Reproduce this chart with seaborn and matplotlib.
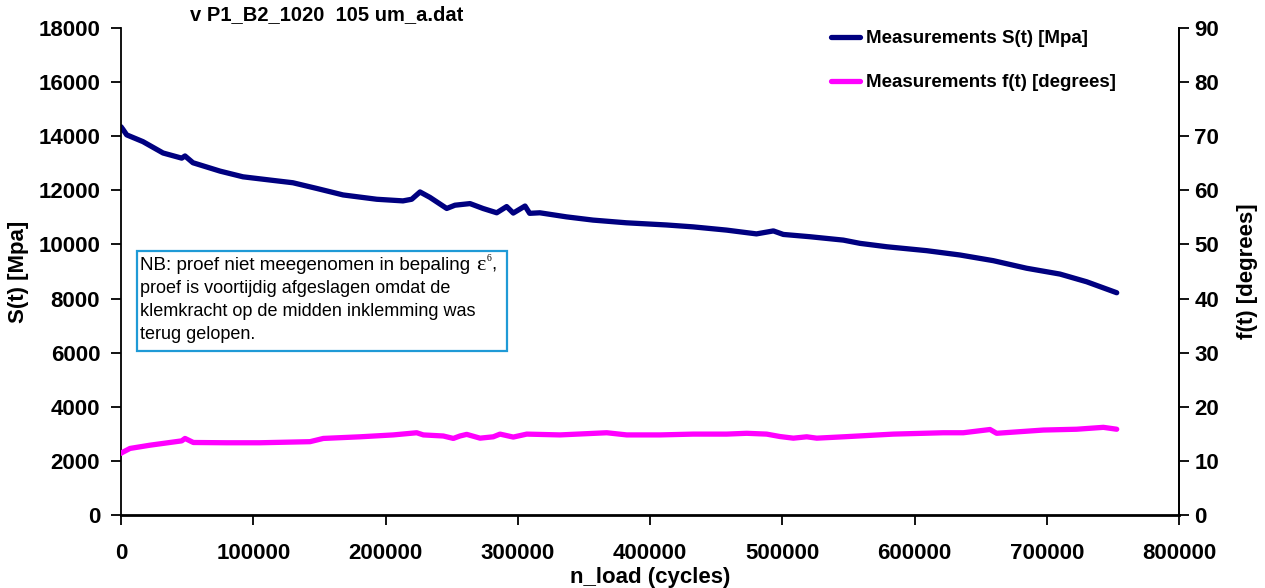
import matplotlib
matplotlib.use("Agg")
import matplotlib.pyplot as plt
import matplotlib.patches as mpatches
from matplotlib.ticker import FuncFormatter
import pandas as pd
import seaborn as sns

# ---- measured series -------------------------------------------------------
cycles_s = [0, 1500, 4300, 16600, 31800, 45900, 48400, 54400, 74900, 92200,
            112700, 130000, 148000, 167900, 193400, 213200, 219800, 226100,
            233600, 246300, 252500, 263900, 273700, 284100, 291600, 296600,
            305500, 309000, 316700, 336800, 356900, 382200, 412400, 432500,
            457900, 480500, 493300, 500800, 521000, 546200, 558800, 579000,
            609200, 634400, 659600, 684800, 710000, 730200, 752900]
stiffness = [14350, 14250, 14050, 13800, 13380, 13190, 13270, 13020, 12710, 12500,
             12380, 12280, 12070, 11830, 11670, 11610, 11670, 11940,
             11740, 11330, 11450, 11510, 11330, 11170, 11400, 11160,
             11420, 11150, 11170, 11020, 10900, 10800, 10720, 10650,
             10530, 10390, 10500, 10370, 10285, 10160, 10040, 9915,
             9770, 9610, 9400, 9120, 8905, 8620, 8215]

cycles_f = [0, 530, 6800, 21900, 45900, 48400, 54700, 79900, 105100, 142900,
            153000, 180700, 205900, 223600, 228600, 243700, 251300, 256300,
            261400, 271500, 281500, 286600, 296600, 306800, 331900, 367300,
            382400, 407600, 432700, 458000, 473100, 488200, 498300, 508400,
            518500, 526100, 546200, 584000, 621800, 636900, 657100, 662100,
            697400, 722600, 742800, 752900]
phase = [11.4, 11.5, 12.3, 12.9, 13.7, 14.15, 13.4, 13.35, 13.35, 13.55,
         14.15, 14.45, 14.8, 15.2, 14.8, 14.6, 14.15, 14.6,
         14.9, 14.2, 14.45, 14.95, 14.4, 14.95, 14.8, 15.2,
         14.8, 14.8, 14.95, 14.95, 15.1, 14.95, 14.5, 14.2,
         14.45, 14.2, 14.45, 14.95, 15.2, 15.2, 15.8, 15.1,
         15.7, 15.85, 16.2, 15.85]

x_ticks = [0, 100000, 200000, 300000, 400000, 500000, 600000, 700000, 800000]
s_ticks = [0, 2000, 4000, 6000, 8000, 10000, 12000, 14000, 16000, 18000]
f_ticks = [0, 10, 20, 30, 40, 50, 60, 70, 80, 90]

title = "v P1_B2_1020  105 um_a.dat"
label_s = "Measurements S(t) [Mpa]"
label_f = "Measurements f(t) [degrees]"
note_head = "NB: proef niet meegenomen in bepaling "
note_symbol = "ε"
note_sup = "6"
note_lines = ["proef is voortijdig afgeslagen omdat de",
              "klemkracht op de midden inklemming was",
              "terug gelopen."]

# ---- style -----------------------------------------------------------------
sns.set_theme(style="white")
plt.rcParams["font.family"] = ["Liberation Sans", "DejaVu Sans"]
plt.rcParams["text.color"] = "black"
plt.rcParams["axes.labelcolor"] = "black"
plt.rcParams["xtick.color"] = "black"
plt.rcParams["ytick.color"] = "black"

W, H = 1265, 588
fig = plt.figure(figsize=(W / 100, H / 100), dpi=100)
fig.patch.set_facecolor("white")

L, R, T, B = 121, 1179, 28, 515
ax = fig.add_axes([L / W, 1 - B / H, (R - L) / W, (B - T) / H])
ax2 = ax.twinx()
ax2.set_position(ax.get_position())

df_s = pd.DataFrame({"n": cycles_s, "S": stiffness})
df_f = pd.DataFrame({"n": cycles_f, "f": phase})

navy = "#000080"
magenta = "#FF00FF"

sns.lineplot(data=df_s, x="n", y="S", ax=ax, color=navy, lw=3.8,
             label=label_s, legend=False, solid_capstyle="round",
             solid_joinstyle="round")
sns.lineplot(data=df_f, x="n", y="f", ax=ax2, color=magenta, lw=3.8,
             label=label_f, legend=False, solid_capstyle="round",
             solid_joinstyle="round")

ax.set_xlim(0, 800000)
ax.set_ylim(0, 18000)
ax2.set_ylim(0, 90)
ax.set_xticks(x_ticks)
ax.set_yticks(s_ticks)
ax2.set_yticks(f_ticks)
ax.xaxis.set_major_formatter(FuncFormatter(lambda v, p: f"{int(v)}"))

for a in (ax, ax2):
    for sp in a.spines.values():
        sp.set_color("black")
        sp.set_linewidth(1.3)
    a.spines["top"].set_visible(False)
    a.grid(False)
    a.set_facecolor("none")
ax.spines["bottom"].set_linewidth(2.0)
ax2.spines["left"].set_visible(False)
ax2.spines["bottom"].set_visible(False)

ax.tick_params(axis="x", direction="out", length=7, width=1.3, pad=13,
               labelsize=16, colors="black", bottom=True)
ax.tick_params(axis="y", direction="out", length=7, width=1.3, pad=8,
               labelsize=16, colors="black", left=True)
ax2.tick_params(axis="y", direction="out", length=7, width=1.3, pad=4,
                labelsize=16, colors="black", right=True)
for lbl in ax.get_xticklabels() + ax.get_yticklabels() + ax2.get_yticklabels():
    lbl.set_fontweight("bold")

ax.set_xlabel("n_load (cycles)", fontsize=16, fontweight="bold", va="top",
              color="black")
ax.xaxis.set_label_coords(0.5, -0.106)
ax.set_ylabel("S(t) [Mpa]", fontsize=16, fontweight="bold", va="center",
              color="black")
ax.yaxis.set_label_coords(-0.097, 0.5)
ax2.set_ylabel("f(t) [degrees]", fontsize=16, fontweight="bold", va="center",
               rotation=90, color="black")
ax2.yaxis.set_label_coords(1.065, 0.5)

# title in the upper left
fig.text(327 / W, 1 - 15 / H, title, ha="center", va="center",
         fontsize=14.5, fontweight="bold", color="black")

# legend top right, no frame
handles = ax.get_lines()[:1] + ax2.get_lines()[:1]
leg = fig.legend(handles, [label_s, label_f], loc="upper left",
                 bbox_to_anchor=(831 / W, 1 - 30 / H), frameon=False,
                 prop=dict(size=13.5, weight="bold"), handlelength=1.55,
                 handletextpad=0.3, labelspacing=1.45, borderpad=0,
                 borderaxespad=0)
for t in leg.get_texts():
    t.set_color("black")

# note box
box = mpatches.Rectangle((137 / W, 1 - 351 / H), (507 - 137) / W, (351 - 251) / H,
                         transform=fig.transFigure, fill=True, facecolor="white",
                         edgecolor="#1F9AD6", lw=1.6, zorder=5)
fig.add_artist(box)

base0 = 270
head = fig.text(140 / W, 1 - base0 / H, note_head, ha="left", va="baseline",
                fontsize=13.5, color="black", zorder=6)
fig.canvas.draw()
renderer = fig.canvas.get_renderer()
x_end = head.get_window_extent(renderer).x1
sym = fig.text(x_end / W + 1 / W, 1 - base0 / H, note_symbol, ha="left",
               va="baseline", fontsize=16, family="Liberation Serif",
               color="black", zorder=6)
fig.canvas.draw()
x_sym = sym.get_window_extent(renderer).x1
sup = fig.text(x_sym / W + 0.5 / W, 1 - (base0 - 9) / H, note_sup, ha="left",
               va="baseline", fontsize=7, family="Liberation Serif",
               color="black", zorder=6)
fig.canvas.draw()
x_sup = sup.get_window_extent(renderer).x1
fig.text(x_sup / W, 1 - base0 / H, ",", ha="left", va="baseline",
         fontsize=13.5, color="black", zorder=6)

for i, line in enumerate(note_lines):
    fig.text(140 / W, 1 - (base0 + 23 * (i + 1)) / H, line, ha="left",
             va="baseline", fontsize=13, color="black", zorder=6)

fig.savefig("out.png", dpi=100, facecolor="white")
